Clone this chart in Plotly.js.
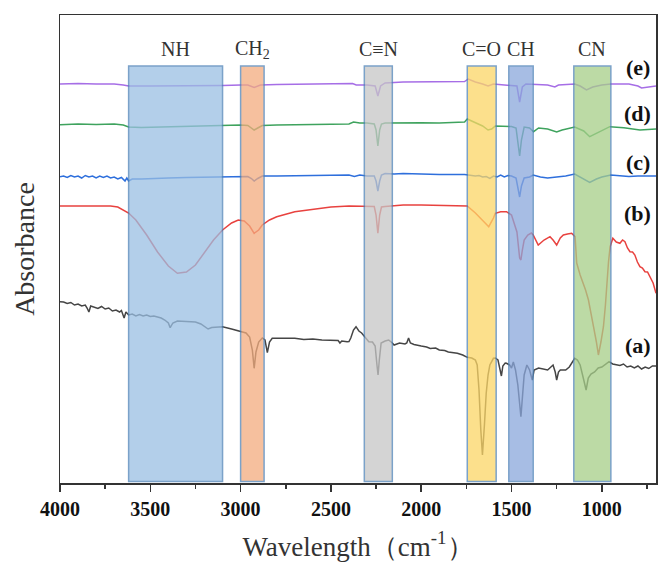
<!DOCTYPE html>
<html>
<head>
<meta charset="utf-8">
<script src="https://cdn.plot.ly/plotly-3.0.1.min.js"></script>
<style>html,body{margin:0;padding:0;background:#fff;}#chart{width:668px;height:566px;}</style>
</head>
<body>
<div id="chart"></div>
<script>
// Wavenumbers (cm-1) and absorbance values (arbitrary units, offset stacked as in figure)
const waveE = [4000,3900,3800,3700,3650,3620,3500,3300,3100,3000,2960,2925,2890,2800,2500,2380,2360,2300,2255,2240,2225,2200,2100,2000,1800,1760,1740,1700,1660,1630,1600,1520,1470,1455,1440,1420,1350,1300,1260,1240,1150,1120,1085,1050,1000,950,850,800,780,750,700];
const absE  = [399,399.5,399,399,398,397,397,397,397.5,398,398,395.5,398,398.5,399,399.5,398,398,397,387,397,400,401,401,401,401.5,404,401,399,397,399,398,397,381,396,399,398,398,396,398,399,397,393,396,398,399,399,397,395,396,397];

const waveD = [4000,3900,3800,3700,3650,3620,3550,3450,3300,3100,3000,2960,2940,2925,2905,2880,2800,2600,2400,2375,2340,2300,2260,2250,2240,2230,2220,2200,2100,2000,1900,1800,1760,1745,1720,1690,1660,1630,1610,1590,1550,1500,1475,1465,1455,1445,1430,1400,1378,1350,1300,1250,1220,1150,1100,1067,1040,1011,956,878,789,700];
const absD  = [358.3,359,358.5,359,358,356,355.5,356,356.5,357.5,358,357.5,355,353,355,357.5,358,358.5,359,361,360,360,359,353,337,353,359,360,360.5,360.3,360,360.5,361,364,362,359,357,353,354,357,357,356.5,355,343,327,343,356,355,351.3,355,354,351,353,356,352,346.3,349,351.3,356.3,355.3,353,354];

const waveC = [4000,3980,3960,3940,3920,3900,3880,3860,3840,3820,3800,3780,3760,3740,3720,3700,3680,3660,3640,3630,3620,3600,3550,3500,3400,3300,3200,3100,3000,2960,2940,2925,2905,2880,2800,2600,2400,2370,2340,2300,2260,2250,2240,2230,2220,2200,2150,2100,2050,2000,1900,1800,1760,1740,1700,1680,1660,1640,1620,1600,1580,1560,1540,1520,1500,1475,1465,1455,1445,1430,1400,1380,1340,1300,1250,1200,1150,1110,1067,1030,1000,950,900,850,800,750,700];
const absC  = [306.3,307,305.5,307.5,306,307,305,307.5,306,307,305,307,305.5,307,305,306,304,305.5,302,305,302,304,304,304.5,305,305.5,306,306.5,307,306.5,304.5,302,304.5,307,307,307.5,308,306.5,308,307,307,302,292,302,308,309.5,309,309.5,309,309,308.5,309,308.5,308,307,307.5,306,306.5,304.7,307,306,308,306,307.5,307,305,297,286,297,305,306,308,306,305,306,307,309,305,300.7,304,306,308,307,306.5,307,307,307];

const waveB = [4000,3900,3800,3720,3680,3650,3620,3580,3520,3460,3400,3350,3300,3250,3200,3150,3100,3050,3013,2980,2950,2925,2900,2880,2840,2800,2700,2600,2500,2400,2300,2260,2250,2240,2230,2220,2200,2100,2000,1900,1800,1745,1700,1650,1626,1600,1590,1560,1528,1500,1490,1470,1455,1448,1440,1430,1410,1390,1380,1352,1320,1287,1270,1250,1230,1213,1190,1167,1148,1139,1120,1102,1090,1074,1060,1046,1030,1019,1005,991,980,972,963,954,939,920,900,885,872,858,844,830,817,803,789,775,761,747,733,716,700];
const absB  = [277,277,277.5,277,276,273,270,263,248,231,217,209.7,211,218,230,243,253,260,263,262,257,249.7,253,258,263,266.3,271.3,273.5,276,277,276.5,276.5,268,249.7,268,276,276.5,278,278,277.5,277.3,277,270,260,256.3,265,269.7,271.3,271.3,268,263,251,225,223,233,243,248,250,248,238,243,246.3,243,238,245,248,249,249.7,246.3,220,208,200,193,183,171,156.3,141,128,141,156.3,178,200,221,236.3,244.7,241,239.7,243,241.3,235,231.3,231,228,221,216.3,215,211.3,211,206.3,200,189.7];

const waveA = [4000,3980,3960,3940,3920,3900,3880,3860,3850,3840,3830,3810,3790,3770,3750,3730,3710,3690,3670,3660,3645,3635,3620,3600,3580,3560,3540,3520,3500,3480,3460,3440,3420,3400,3390,3375,3350,3300,3250,3220,3200,3180,3160,3130,3100,3050,3000,2970,2950,2935,2925,2915,2900,2880,2865,2852,2840,2825,2800,2750,2700,2650,2600,2550,2500,2460,2450,2440,2410,2400,2390,2375,2361,2345,2330,2320,2300,2290,2270,2255,2245,2239,2232,2222,2200,2180,2160,2150,2120,2090,2080,2070,2060,2040,2000,1970,1950,1920,1900,1870,1850,1820,1800,1770,1745,1720,1700,1690,1680,1670,1661,1650,1640,1630,1620,1600,1590,1575,1565,1556,1548,1535,1528,1510,1500,1490,1478,1465,1448,1440,1430,1415,1400,1385,1375,1350,1330,1300,1270,1258,1250,1240,1230,1200,1180,1160,1150,1135,1120,1100,1087,1075,1060,1040,1020,1000,980,960,940,920,900,880,860,840,820,800,780,760,740,720,700];
const absA  = [181.3,181,179.5,180.5,178,179,177,178,175,171,177,176,174.5,176.5,174,175,172,173,171,172.5,165,171,168,169,167,168.5,167,168,166.5,167,166,165,163,160,155.3,160,162,161.3,161,159,156.3,154,155.5,156,156.3,154,151.3,150,146,133,114.7,131,141,145,143,130.3,141,144.7,144.7,145,144.7,143.5,144,143,143,142.5,140,142,141.3,141.5,145,153,156.3,152,150,148,144,141.3,141,137,118,108,123,140,142,143,140,138,140,139,140,145,140,138.5,137,136,134.5,135,133,132.5,131,130.5,129.7,128,125.7,125,123,118,93,53,28,58,90,108,118,124.7,125,123,115,107,117,120,119.7,118,115,121,113,98,66.3,88,108,118,113,103,113,115,114,113,118,111,103,111,113,113,116,121,124.7,123,118,103,93,105,109,111,115,116,119,121.3,119,118,117.5,119,116,117,115,117,114,116,114.5,117,117];

const seriesNames = ['(a)','(b)','(c)','(d)','(e)'];
const seriesColors = ['#454545','#e8423f','#2e6fdc','#3fa35e','#a66ee6'];

// Absorption band regions
const bandLabels = ['NH','CH<sub>2</sub>','C≡N','C=O','CH','CN'];
const bandStart  = [3620,3000,2315,1745,1515,1155];
const bandEnd    = [3100,2870,2160,1585,1380,950];
const bandColors = ['#9abfe3','#f3ac7e','#c6c6c6','#fcd666','#8aa7dc','#a6ce88'];

const waves = [waveA,waveB,waveC,waveD,waveE];
const absv  = [absA,absB,absC,absD,absE];

const traces = waves.map((w,i)=>({
  x: w, y: absv[i], type:'scatter', mode:'lines', name: seriesNames[i],
  line:{color: seriesColors[i], width:1.5}, hoverinfo:'skip'
}));

const shapes = bandStart.map((s,i)=>({
  type:'rect', xref:'x', yref:'y', x0:s, x1:bandEnd[i], y0:1.5, y1:417,
  fillcolor: bandColors[i], opacity:0.75, layer:'above',
  line:{color:'#4f83b8', width:1.5}
}));

const serif = 'Liberation Serif, Times New Roman, serif';
const annotations = bandLabels.map((t,i)=>({
  x:(bandStart[i]+bandEnd[i])/2, y:434, xref:'x', yref:'y', text:t, showarrow:false,
  font:{family:serif, size:20, color:'#333'}, xanchor:'center', yanchor:'middle'
}));
const labelY = [138,270,321,370,416];
seriesNames.forEach((n,i)=>annotations.push({
  x:800, y:labelY[i], xref:'x', yref:'y', text:n, showarrow:false,
  font:{family:serif, size:22, color:'#111', weight:'bold'}, xanchor:'center', yanchor:'middle'
}));

const layout = {
  width:668, height:566,
  margin:{l:60, r:12, t:15, b:83},
  paper_bgcolor:'#fff', plot_bgcolor:'#fff',
  showlegend:false,
  xaxis:{
    range:[4000,700], dtick:500, tick0:0,
    ticks:'outside', ticklen:7, tickwidth:1.5, tickcolor:'#333',
    minor:{dtick:250, ticks:'outside', ticklen:4.5, tickwidth:1.5, tickcolor:'#333'},
    showline:true, mirror:true, linecolor:'#333', linewidth:1.5,
    showgrid:false, zeroline:false,
    tickfont:{family:serif, size:20, color:'#111', weight:'bold'},
    title:{text:'Wavelength（cm<sup>-1</sup>）', font:{family:serif, size:27, color:'#333'}, standoff:18},
    automargin:false
  },
  yaxis:{
    range:[0,468], showticklabels:false, ticks:'',
    showline:true, mirror:true, linecolor:'#333', linewidth:1.5,
    showgrid:false, zeroline:false,
    title:{text:'Absorbance', font:{family:serif, size:28, color:'#333'}, standoff:15},
    automargin:false
  },
  shapes: shapes,
  annotations: annotations
};

Plotly.newPlot('chart', traces, layout, {displayModeBar:false, staticPlot:true});
</script>
</body>
</html>
